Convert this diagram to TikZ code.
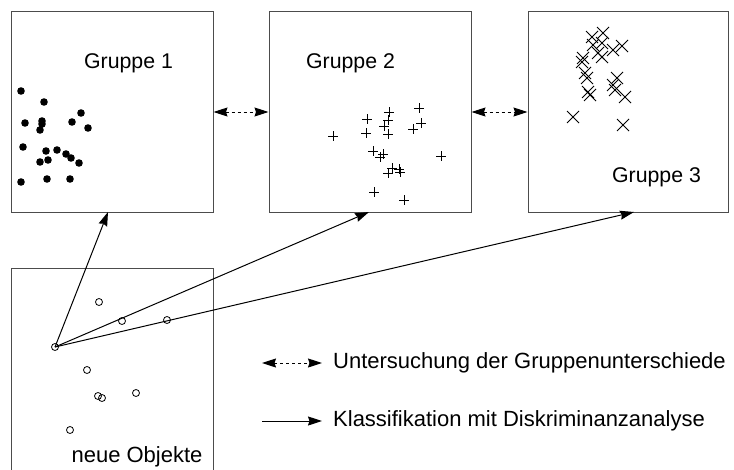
\documentclass[tikz,border=0pt]{standalone}
\usepackage{fontspec}
\setmainfont{Liberation Sans}
\usetikzlibrary{arrows.meta}
\begin{document}
\begin{tikzpicture}[x=1pt,y=-1pt,
  grpbox/.style={draw=black!70,line width=1pt,rectangle,inner sep=0pt,minimum width=202pt,minimum height=201pt},
  lbl/.style={font=\fontsize{21.3}{25}\selectfont,inner sep=0pt},
  lbltwo/.style={font=\fontsize{22}{26}\selectfont,inner sep=0pt},
  dotpt/.style={fill=black,draw=none,circle,inner sep=0pt,minimum size=7.6pt},
  opt/.style={draw=black,line width=0.8pt,circle,inner sep=0pt,minimum size=7pt},
  tipa/.tip={Triangle[length=14pt,width=9pt,inset=1.5pt]},
  dasharr/.style={line width=1pt,dash pattern=on 3pt off 3pt,{tipa}-{tipa}},
  solarr/.style={line width=1pt,-{tipa}},
  plusmark/.pic={\draw[line width=0.9pt] (-5,0) -- (5,0) (0,-5) -- (0,5);},
  xmark/.pic={\draw[line width=0.8pt] (-6,-6) -- (6,6) (-6,6) -- (6,-6);}
]
\useasboundingbox (0,0) rectangle (734,469);
\begin{scope}
\clip (0,0) rectangle (734,469);
% boxes
\node[grpbox] (g1) at (112,111.5) {};
\node[grpbox] (g2) at (370,111.5) {};
\node[grpbox,minimum width=200pt] (g3) at (628,111.5) {};
\draw[draw=black!70,line width=1pt] (11,475) |- (213,268) -- (213,475);
\end{scope}
% labels
\node[lbl] (t1) at (128.5,63) {Gruppe 1};
\node[lbl] (t2) at (350.5,63) {Gruppe 2};
\node[lbl] (t3) at (656.5,177) {Gruppe 3};
\node[lbltwo] (t4) at (137,457) {neue Objekte};
% group 1 dots
\foreach \p in {(21,91),(44,102),(25,123),(42,121),(42,124),(40,130),(81,113),(72,122),(88,128),
  (23,147),(46,151),(57,150),(66,154),(71,158),(79,163),(40,162),(48,160),(21,182),(47,179),(70,179)}
  \node[dotpt] at \p {};
% group 2 pluses
\foreach \p in {(419,108),(389,112),(367,119),(388,120),(421,123),(384,126),(413,129),(333,136),
  (366,133),(388,134),(373,151),(383,154),(380,157),(441,156),(392,168),(399,169),(388,173),(400,172),
  (374,192),(404,200)}
  \pic at \p {plusmark};
% group 3 crosses
\foreach \p in {(603,33),(592,37),(602,43),(593,45),(622,46),(613,50),(598,53),(583,58),(602,57),
  (582,62),(585,73),(587,78),(617,78),(613,85),(588,92),(590,95),(625,97),(615,90),(573,117),(623,125)}
  \pic at \p {xmark};
% new objects
\node[opt] (o0) at (55,347) {};
\node[opt] (o1) at (99,302) {};
\node[opt] (o2) at (122,321) {};
\node[opt] (o3) at (167,320) {};
\node[opt] (o4) at (87,370) {};
\node[opt] (o5) at (98,396) {};
\node[opt] (o6) at (102,398) {};
\node[opt] (o7) at (136,393) {};
\node[opt] (o8) at (70,430) {};
% arrow endpoints
\coordinate (e1) at (108,212);
\coordinate (e2) at (369,212);
\coordinate (e3) at (634,212);
\draw[solarr] (o0.center) -- (e1);
\draw[solarr] (o0.center) -- (e2);
\draw[solarr] (o0.center) -- (e3);
\draw[dasharr] (g1.east |- 0,112) -- (g2.west |- 0,112);
\draw[dasharr] (g2.east |- 0,112) -- (g3.west |- 0,112);
% legend
\coordinate (la) at (262,363);
\coordinate (lb) at (322,363);
\coordinate (lc) at (262,421);
\coordinate (ld) at (322,421);
\draw[dasharr] (la) -- (lb);
\draw[solarr] (lc) -- (ld);
\node[lbltwo,anchor=west] (l1) at (333,363) {Untersuchung der Gruppenunterschiede};
\node[lbltwo,anchor=west] (l2) at (333,421) {Klassifikation mit Diskriminanzanalyse};
\end{tikzpicture}
\end{document}
